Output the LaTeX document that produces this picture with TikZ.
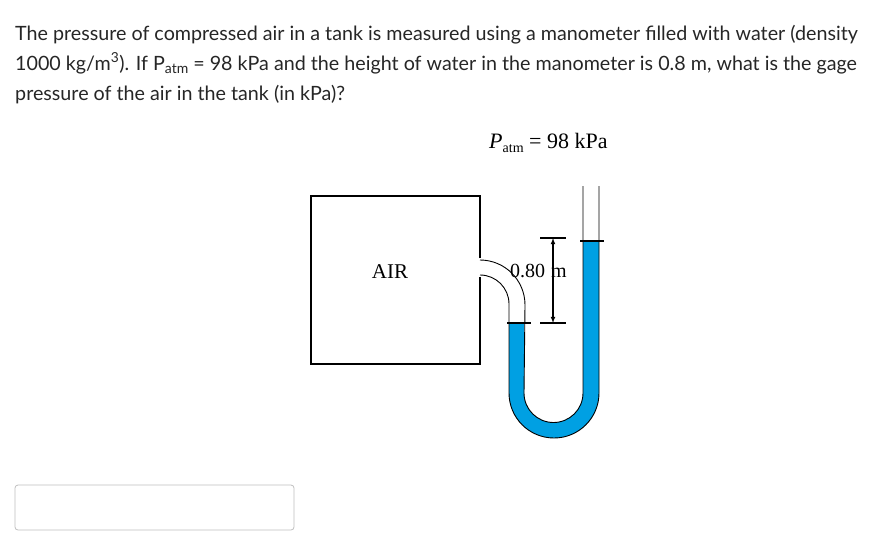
\documentclass[tikz,border=0pt]{standalone}
\usepackage{fontspec}
\setmainfont{Lato}
\newfontfamily\serifx{Liberation Serif}
\definecolor{water}{RGB}{0,160,227}
\begin{document}
\begin{tikzpicture}[x=1pt,y=1pt,
  qtext/.style={anchor=base west,inner sep=0pt,font=\fontsize{19.7}{22}\selectfont,text=black!85},
  wall/.style={line width=1.3pt},
  thinwall/.style={line width=0.9pt}]
\useasboundingbox (0,0) rectangle (888,-552);
\node[qtext] (l1) at (15,-40) {The pressure of compressed air in a tank is measured using a manometer filled with water (density};
\node[qtext] (l2) at (15,-70) {1000 kg/m\textsuperscript{3}). If P\raisebox{-0.35ex}{\fontsize{14}{16}\selectfont atm} = 98 kPa and the height of water in the manometer is 0.8 m, what is the gage};
\node[qtext] (l3) at (15,-100) {pressure of the air in the tank (in kPa)?};
\node[anchor=base west,inner sep=0pt,font=\serifx\fontsize{22}{24}\selectfont] (patm) at (489,-148) {\textit{P}\raisebox{-0.4ex}{\fontsize{14}{16}\selectfont atm} = 98 kPa};
% tank
\draw[wall] (480,-258) -- (480,-196) -- (311,-196) -- (311,-364) -- (480,-364) -- (480,-277);
\node[font=\serifx\fontsize{21}{24}\selectfont] (air) at (390,-272) {AIR};
% water
\fill[water] (509,-323) -- (509,-393) arc[start angle=180,end angle=360,radius=45pt] -- (599,-241) -- (583,-241) -- (583,-393) arc[start angle=0,end angle=-180,radius=29.5pt] -- (524,-323) -- cycle;
% tube outlines
\draw[thinwall] (480,-260) arc[start angle=90,end angle=0,radius=45pt] -- (524,-393) arc[start angle=180,end angle=360,radius=29.5pt] -- (583,-186);
\draw[thinwall] (480,-275) arc[start angle=90,end angle=0,radius=29pt] -- (509,-393) arc[start angle=180,end angle=360,radius=45pt] -- (599,-186);
% levels
\draw[line width=1.6pt] (507,-323) -- (531,-323);
\draw[line width=1.6pt] (580,-241) -- (604,-241);
\draw[line width=1.2pt] (540,-238) -- (566,-238);
\draw[line width=1.2pt] (540,-323) -- (566,-323);
\coordinate (dt) at (553,-238);
\coordinate (db) at (553,-323);
\draw[-latex,line width=1.1pt] (553,-280) -- (dt);
\draw[-latex,line width=1.1pt] (553,-280) -- (db);
\node[font=\serifx\fontsize{20}{22}\selectfont,inner sep=0pt,anchor=base west] (dim) at (510,-277) {0.80\hspace{6pt}m};
% answer box
\draw[black!25,rounded corners=3pt,line width=0.8pt] (15,-485) rectangle (294,-530);
\end{tikzpicture}
\end{document}
